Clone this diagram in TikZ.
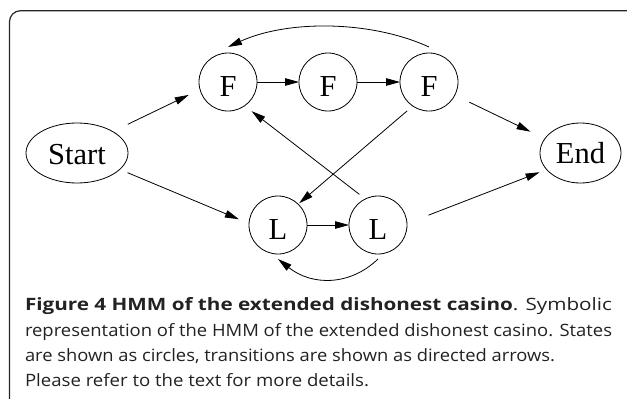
\documentclass[tikz,border=0pt]{standalone}
\usepackage{fontspec}
\usepackage{graphicx}
\setmainfont{Liberation Serif}
\newfontfamily\capfont{Open Sans}
\usetikzlibrary{arrows.meta,shapes.geometric}
\definecolor{framecol}{HTML}{262626}
\definecolor{capcol}{HTML}{222222}
\begin{document}
\begin{tikzpicture}[x=1pt,y=-1pt,
  every node/.style={inner sep=0pt,outer sep=0pt},
  statefont/.style={font=\fontsize{30.5}{30.5}\selectfont},
  fl/.style={statefont,draw,circle,line width=0.8pt,minimum size=58pt,text height=28pt,text depth=0pt},
  se/.style={statefont,draw,ellipse,line width=0.8pt,minimum height=60pt,text height=22pt,text depth=0pt},
  edge/.style={line width=0.8pt,-{Triangle[length=14pt,width=7.5pt]}},
  frameline/.style={line width=1.2pt,draw=framecol,rounded corners=11pt},
  capline/.style={anchor=base west,font=\capfont\fontsize{17}{20}\selectfont,text=capcol}
]
\useasboundingbox (0,0) rectangle (627,399);
% frame
\draw[frameline] (9.5,399) -- (9.5,10.7) -- (627,10.7);
% states
\node[se,minimum width=102pt] (start) at (77,153) {Start};
\node[se,minimum width=81pt,text height=20pt] (end) at (580.5,153) {End};
\node[fl] (f1) at (228,82) {F};
\node[fl] (f2) at (328,82) {F};
\node[fl] (f3) at (429,82) {F};
\node[fl,text height=29pt] (l1) at (278,225) {L};
\node[fl,text height=29pt] (l2) at (378,225) {L};
% transitions
\draw[edge,shorten <=16.8pt,shorten >=12.5pt] (start.31) -- (f1.195.4);
\draw[edge,shorten <=8.4pt,shorten >=11pt] (start.-21.8) -- (l1.177.1);
\draw[edge] (f1) -- (f2);
\draw[edge] (f2) -- (f3);
\draw[edge,shorten <=16pt,shorten >=16pt] (f3.-27.4) -- (end.158.1);
\draw[edge,shorten <=7.4pt,shorten >=1.4pt] (f3.236.3) -- (l1.46.3);
\draw[edge,shorten <=7.4pt,shorten >=8.9pt] (l2.116.1) -- (f1.-55.8);
\draw[edge] (l1) -- (l2);
\draw[edge,shorten <=23pt,shorten >=7.6pt] (l2.3.3) -- (end.206.3);
\draw[edge] ([yshift=6pt]f3.north) .. controls +(-59,-27) and +(59,-27) .. ([yshift=6pt]f1.north);
\draw[edge] ([yshift=-5pt]l2.south) .. controls +(-28,27) and +(34,27) .. ([yshift=-5pt]l1.south);
% caption
\node[capline] (cap1) at (25,310) {\resizebox{587pt}{\height}{\textbf{Figure 4 HMM of the extended dishonest casino}. Symbolic}};
\node[capline] (cap2) at (25,336) {\resizebox{587pt}{\height}{representation of the HMM of the extended dishonest casino. States}};
\node[capline] (cap3) at (25,361) {\resizebox{530pt}{\height}{are shown as circles, transitions are shown as directed arrows.}};
\node[capline] (cap4) at (25,386) {\resizebox{344pt}{\height}{Please refer to the text for more details.}};
\end{tikzpicture}
\end{document}
